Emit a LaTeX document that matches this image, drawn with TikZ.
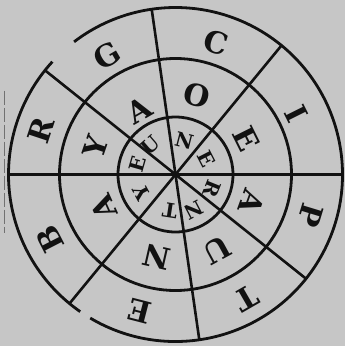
\documentclass[tikz,border=0pt]{standalone}
\usepackage{fontspec}
\newfontfamily\wheelfont{DejaVu Serif}
\definecolor{paper}{RGB}{198,198,198}
\definecolor{ink}{RGB}{18,18,18}
\tikzset{
  ring/.style={draw=ink, line width=2.8pt},
  spoke/.style={draw=ink, line width=2.6pt},
  bigletter/.style={text=ink, inner sep=0pt, font=\wheelfont\bfseries\fontsize{30}{30}\selectfont},
  smallletter/.style={text=ink, inner sep=0pt, font=\wheelfont\bfseries\fontsize{20}{20}\selectfont},
}
\begin{document}
\begin{tikzpicture}[x=1pt,y=1pt]
\fill[paper] (-175.5,-171.5) rectangle (169.5,174.5);
\useasboundingbox (-175.5,-171.5) rectangle (169.5,174.5);
\coordinate (c) at (0,0);
% circles
\draw[ring] (c) circle (116);
\draw[ring] (c) circle (57.5);
\draw[ring] (239.3:167) arc (239.3:487.4:167);
\draw[ring] (137.5:167) arc (137.5:235.2:167);
% spokes
\foreach \a [count=\i] in {0,50.6,98.2,141.4}{
  \coordinate (s\i a) at (\a:167);
  \coordinate (s\i b) at (\a+180:167);
  \draw[spoke] (s\i a) -- (c) -- (s\i b);
}
% scan artifact at left edge
\draw[ink!60, line width=0.8pt, dash pattern=on 14pt off 3pt] (-171,84) -- (-171,-58);
% outer letters
\foreach \a/\r/\l [count=\i, evaluate=\a as \rot using \a-90] in
  {120.1/137.3/G, 73/137.8/C, 26.5/135.5/I, -16.9/141.3/P, -60.1/142.8/T, 255.5/141.7/E, 207.2/141.1/B, 161.7/142/R}
  \node[bigletter, rotate=\rot] (out\i) at (\a:\r) {\l};
% middle letters
\foreach \a/\r/\l [count=\i, evaluate=\a as \rot using \a-90] in
  {75/82/O, 119.8/73.5/A, 161.2/84.3/Y, 204.4/79.3/A, 257.1/84.3/N, -61.4/86/U, -19.9/81.7/A, 26.5/79.6/E}
  \node[bigletter, rotate=\rot] (mid\i) at (\a:\r) {\l};
% inner letters
\foreach \a/\r/\l [count=\i, evaluate=\a as \rot using \a-90] in
  {75.5/35/N, 131/38/U, 164/39/E, 208.2/38/Y, 261.2/37/T, -62.5/40/N, -22/39.4/R, 27.2/35/E}
  \node[smallletter, rotate=\rot] (in\i) at (\a:\r) {\l};
\end{tikzpicture}
\end{document}
